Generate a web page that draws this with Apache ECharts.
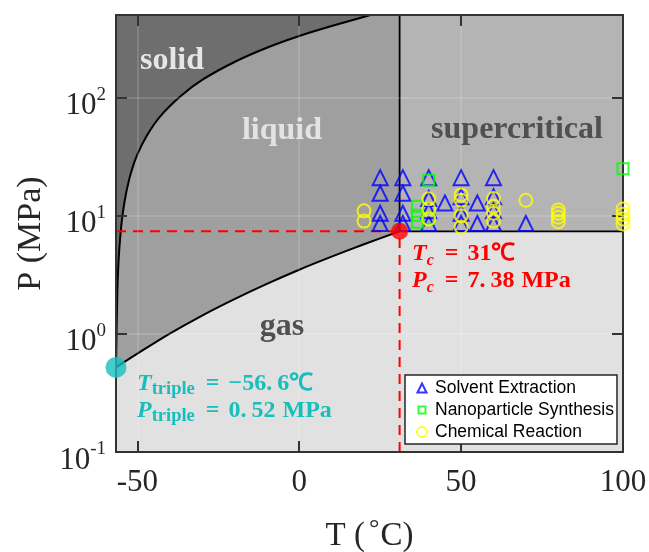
<!DOCTYPE html>
<html><head><meta charset="utf-8">
<script src="https://cdn.jsdelivr.net/npm/echarts@6/dist/echarts.min.js"></script>
<style>html,body{margin:0;padding:0;background:#fff}#c{width:649px;height:552px}</style>
</head><body><div id="c"></div>
<script>
// ---- data ----
const T_MIN = -56.6, T_MAX = 100, P_MIN = 0.1, P_MAX = 500;
const tripleT = -56.6, tripleP = 0.52;
const critT = 31, critP = 7.38;
// melting curve (solid/liquid)
const meltT = [-56.6, -56.2, -55.8, -55.2, -54.5, -53.5, -52, -50, -47, -43, -36.6, -30, -20, -10, 0, 10, 22];
const meltP = [0.52, 2.2, 4.2, 7.1, 10.5, 15.4, 23, 33, 48, 69, 103, 141, 200, 264, 332, 403, 500];
// vaporization curve (liquid/gas)
const vapT = [-56.6, -50, -40, -30, -20, -10, 0, 10, 20, 31];
const vapP = [0.52, 0.68, 1.005, 1.43, 1.97, 2.65, 3.49, 4.5, 5.73, 7.38];
// Solvent Extraction
const solvT = [25, 25, 25, 25, 32, 32, 32, 32, 40, 40, 40, 40, 45, 50, 50, 50, 50, 55, 55, 60, 60, 60, 60, 70];
const solvP = [21, 15.5, 10.5, 8.6, 21, 15.5, 10.5, 8.6, 21, 14, 11, 8.6, 12.8, 21, 14.5, 10.5, 8.6, 12.8, 8.6, 21, 14.5, 11, 8.6, 8.6];
// Nanoparticle Synthesis
const nanoT = [36.5, 36.5, 36.5, 40, 40, 100];
const nanoP = [8.8, 10.1, 12, 20, 9.5, 25];
// Chemical Reaction
const chemT = [20, 20, 40, 40, 40, 50, 50, 50, 50, 60, 60, 60, 60, 70, 80, 80, 80, 80, 100, 100, 100, 100];
const chemP = [9, 11, 9.4, 11.4, 13.9, 8, 10, 13.5, 15, 9, 10.5, 12, 14, 13.5, 8.9, 9.7, 10.5, 11.2, 8.5, 9.4, 10.3, 11.4];

const zip = (a, b) => a.map((v, i) => [v, b[i]]);

// region polygons
const liquidPoly = zip(meltT, meltP).concat([[critT, P_MAX], [critT, critP]]).concat(zip(vapT, vapP).reverse());
const superPoly = [[critT, critP], [critT, P_MAX], [T_MAX, P_MAX], [T_MAX, critP]];
const gasPoly = zip(vapT, vapP).concat([[T_MAX, critP], [T_MAX, P_MIN], [T_MIN, P_MIN]]);

function region(name, poly, color) {
  return {
    type: 'custom', name: name, silent: true, z: 1, data: [[0, 1]],
    renderItem: (params, api) => ({
      type: 'polygon',
      shape: { points: poly.map(p => api.coord(p)) },
      style: { fill: color }
    })
  };
}
function line(name, pts, color, width, type, z, smooth) {
  return { type: 'line', name: name, data: pts, showSymbol: false, symbol: 'none', silent: true, z: z || 5,
    smooth: smooth || false, lineStyle: { color: color, width: width, type: type || 'solid' } };
}

const serif = '"Liberation Serif", "Times New Roman", serif';
const frame = { color: '#333', width: 2 };
const xFmt = v => (Math.abs(v % 50) < 1e-9 ? String(v) : '');
const yFmt = v => {
  const l = Math.log10(v), e = Math.round(l);
  return Math.abs(l - e) < 1e-6 ? '{b|10}{s|' + e + '}' : '';
};
function mathRich(color) {
  return {
    i: { font: 'italic bold 24px ' + serif, fill: color, lineHeight: 30 },
    sub: { font: 'italic bold 16px ' + serif, fill: color, lineHeight: 30, verticalAlign: 'bottom', padding: [0, 2, 0, 0] },
    subr: { font: 'bold 18.5px ' + serif, fill: color, lineHeight: 30, verticalAlign: 'bottom', padding: [0, 2, 0, 0] },
    eq: { font: 'bold 24px ' + serif, fill: color, lineHeight: 30, padding: [0, 9, 0, 9] },
    n: { font: 'bold 24px ' + serif, fill: color, lineHeight: 30 },
    g: { font: 'bold 24px ' + serif, fill: color, lineHeight: 30, padding: [0, 0, 0, 5] },
    u: { font: 'bold 24px ' + serif, fill: color, lineHeight: 30, padding: [0, 0, 0, 7] }
  };
}

const chart = echarts.init(document.getElementById('c'));
chart.setOption({
  animation: false,
  grid: { left: 116, right: 26, top: 15, bottom: 100, show: true, backgroundColor: '#6e6e6e', borderWidth: 0,
          containLabel: false, outerBoundsMode: 'none' },
  xAxis: [
    { type: 'value', min: T_MIN, max: T_MAX, splitNumber: 3, position: 'bottom', z: 10,
      axisLine: { show: true, onZero: false, lineStyle: frame },
      axisTick: { show: true, inside: true, length: 11, lineStyle: frame },
      axisLabel: { fontFamily: serif, fontSize: 31, color: '#262626', margin: 15, formatter: xFmt, showMinLabel: false },
      splitLine: { show: false },
      name: '{a|T (}{d|°}{a|C)}', nameLocation: 'middle', nameGap: 64,
      nameTextStyle: { rich: { a: { fontFamily: serif, fontSize: 33, color: '#262626', lineHeight: 40, verticalAlign: 'middle' },
                               d: { fontFamily: serif, fontSize: 26, color: '#262626', lineHeight: 40, verticalAlign: 'top', padding: [0, 1, 0, 4] } } } },
    { type: 'value', min: T_MIN, max: T_MAX, splitNumber: 3, position: 'top', z: 10,
      axisLine: { show: true, onZero: false, lineStyle: frame },
      axisTick: { show: true, inside: true, length: 11, lineStyle: frame },
      axisLabel: { show: false },
      splitLine: { show: true, lineStyle: { color: 'rgba(255,255,255,0.18)', width: 1.5 } } }
  ],
  yAxis: [
    { type: 'log', logBase: 10, min: P_MIN, max: P_MAX, splitNumber: 5, position: 'left', z: 10,
      axisLine: { show: true, onZero: false, lineStyle: frame },
      axisTick: { show: true, inside: true, length: 11, lineStyle: frame },
      axisLabel: { margin: 10, formatter: yFmt, showMaxLabel: false, padding: [12, 0, 0, 0],
        rich: { b: { fontFamily: serif, fontSize: 31, color: '#262626', lineHeight: 36, verticalAlign: 'bottom' },
                s: { fontFamily: serif, fontSize: 19, color: '#262626', lineHeight: 36, verticalAlign: 'top' } } },
      splitLine: { show: false },
      name: 'P (MPa)', nameLocation: 'middle', nameGap: 68, nameRotate: 90,
      nameTextStyle: { fontFamily: serif, fontSize: 34, color: '#262626' } },
    { type: 'log', logBase: 10, min: P_MIN, max: P_MAX, splitNumber: 5, position: 'right', z: 10,
      axisLine: { show: true, onZero: false, lineStyle: frame },
      axisTick: { show: true, inside: true, length: 11, lineStyle: frame },
      axisLabel: { show: false },
      splitLine: { show: true, lineStyle: { color: 'rgba(255,255,255,0.18)', width: 1.5 } } }
  ],
  legend: {
    data: [
      { name: 'Solvent Extraction', icon: 'path://M0,0M12,12M1.5,10.5L6,1.5L10.5,10.5Z' },
      { name: 'Nanoparticle Synthesis', icon: 'path://M0,0M12,12M2.5,2.5L9.5,2.5L9.5,9.5L2.5,9.5Z' },
      { name: 'Chemical Reaction', icon: 'path://M0,0M12,12M1,6A5,5,0,1,0,11,6A5,5,0,1,0,1,6Z' }
    ],
    orient: 'vertical', left: 405, top: 375, z: 40,
    padding: [4, 3, 3, 10], itemGap: 4, itemWidth: 12, itemHeight: 12,
    backgroundColor: '#ffffff', borderColor: '#262626', borderWidth: 1.5, borderRadius: 0,
    textStyle: { fontFamily: '"Liberation Sans", Arial, sans-serif', fontSize: 17.5, color: '#000', padding: [0, 0, 0, 2] }
  },
  series: [
    region('liquid', liquidPoly, '#9f9f9f'),
    region('supercritical', superPoly, '#b4b4b4'),
    region('gas', gasPoly, '#e1e1e1'),
    line('melting', zip(meltT, meltP), '#000', 2, 'solid', 6, 0.3),
    line('vapor', zip(vapT, vapP), '#000', 2, 'solid', 6, 0.3),
    line('scV', [[critT, critP], [critT, P_MAX]], '#000', 1.8, 'solid', 6),
    line('scH', [[critT, critP], [T_MAX, critP]], '#000', 1.8, 'solid', 6),
    line('pcDash', [[T_MIN, critP], [critT, critP]], '#ff0000', 2, [10, 7], 7),
    line('tcDash', [[critT, P_MIN], [critT, critP]], '#ff0000', 2, [10, 7], 7),
    { type: 'scatter', name: 'Solvent Extraction', data: zip(solvT, solvP), symbol: 'triangle', symbolSize: 15, clip: false, z: 20,
      itemStyle: { color: 'rgba(0,0,0,0)', borderColor: '#0000ff', borderWidth: 2 } },
    { type: 'scatter', name: 'Nanoparticle Synthesis', data: zip(nanoT, nanoP), symbol: 'rect', symbolSize: 11, clip: false, z: 21,
      itemStyle: { color: 'rgba(0,0,0,0)', borderColor: '#00ff00', borderWidth: 2 } },
    { type: 'scatter', name: 'Chemical Reaction', data: zip(chemT, chemP), symbol: 'circle', symbolSize: 13, clip: false, z: 22,
      itemStyle: { color: 'rgba(0,0,0,0)', borderColor: '#ffff00', borderWidth: 2 } },
    { type: 'scatter', name: 'critical', data: [[critT, critP]], symbol: 'circle', symbolSize: 17, clip: false, z: 25, silent: true,
      itemStyle: { color: '#ff0000' } },
    { type: 'scatter', name: 'triple', data: [[tripleT, tripleP]], symbol: 'circle', symbolSize: 21, clip: false, z: 25, silent: true,
      itemStyle: { color: '#17bebb' } }
  ],
  graphic: [
    { type: 'text', x: 172, y: 61, z: 30, style: { text: 'solid', font: 'bold 32px ' + serif, fill: '#e6e6e6', align: 'center', verticalAlign: 'middle' } },
    { type: 'text', x: 282, y: 131, z: 30, style: { text: 'liquid', font: 'bold 32px ' + serif, fill: '#e3e3e3', align: 'center', verticalAlign: 'middle' } },
    { type: 'text', x: 517, y: 130, z: 30, style: { text: 'supercritical', font: 'bold 32px ' + serif, fill: '#505050', align: 'center', verticalAlign: 'middle' } },
    { type: 'text', x: 282, y: 327, z: 30, style: { text: 'gas', font: 'bold 32px ' + serif, fill: '#505050', align: 'center', verticalAlign: 'middle' } },
    { type: 'text', x: 412, y: 254, z: 30, style: { text: '{i|T}{sub|c}{eq|=}{n|31℃}', fill: '#ff0000', verticalAlign: 'middle', rich: mathRich('#ff0000') } },
    { type: 'text', x: 412, y: 281, z: 30, style: { text: '{i|P}{sub|c}{eq|=}{n|7.}{g|38}{u|MPa}', fill: '#ff0000', verticalAlign: 'middle', rich: mathRich('#ff0000') } },
    { type: 'text', x: 137, y: 384, z: 30, style: { text: '{i|T}{subr|triple}{eq|=}{n|−56.}{g|6℃}', fill: '#17bebb', verticalAlign: 'middle', rich: mathRich('#17bebb') } },
    { type: 'text', x: 137, y: 411, z: 30, style: { text: '{i|P}{subr|triple}{eq|=}{n|0.}{g|52}{u|MPa}', fill: '#17bebb', verticalAlign: 'middle', rich: mathRich('#17bebb') } }
  ]
});
</script></body></html>
